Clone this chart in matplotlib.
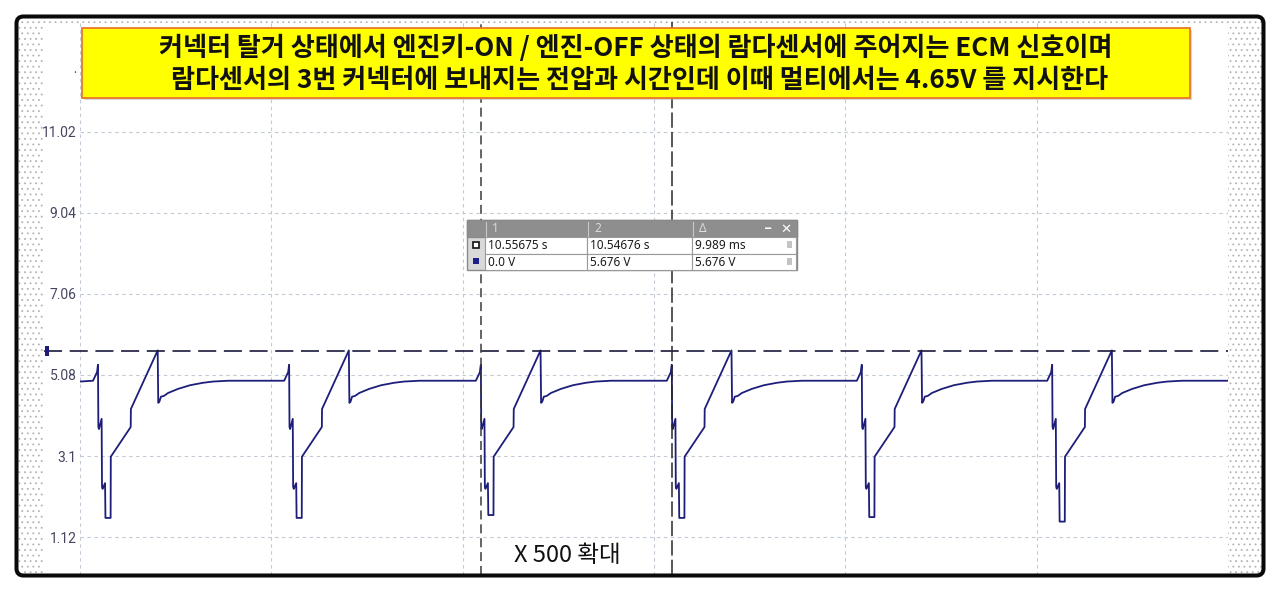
import matplotlib
matplotlib.use("Agg")
import matplotlib.pyplot as plt
from matplotlib.patches import Rectangle, FancyBboxPatch

plt.rcParams['font.family'] = ['Noto Sans CJK KR', 'DejaVu Sans']
plt.rcParams['lines.scale_dashes'] = False
plt.rcParams['hatch.linewidth'] = 0.6

W, H = 1280, 591

# ---------------- data ----------------
y_tick_values = [1.12, 3.1, 5.08, 7.06, 9.04, 11.02]
y_tick_labels = ["1.12", "3.1", "5.08", "7.06", "9.04", "11.02"]
x_grid_ms = [0, 10, 20, 30, 40, 50, 60]
y_limits = [0.196, 13.70]
x_limits = [0.0, 60.0]

# one ignition cycle of the lambda-sensor signal
cycle_dt_ms = [-0.26, -0.05, 0.00, 0.02, 0.05, 0.19, 0.21, 0.24, 0.37, 0.39,
               0.66, 0.67, 1.71, 1.72, 3.12, 3.15, 3.21, 3.29, 3.45, 3.66,
               4.18, 4.81, 5.49, 6.01, 6.80, 9.67]
cycle_v = [4.94, 5.15, 5.33, 3.81, 3.76, 4.01, 2.35, 2.30, 2.44, None,
           None, 3.085, 3.81, 4.25, 5.68, 4.40, 4.43, 4.55, 4.57, 4.64,
           4.74, 4.83, 4.89, 4.92, 4.94, 4.94]
cycle_start_ms = [0.94, 10.93, 20.95, 30.93, 40.86, 50.81]
cycle_floor_v = [1.59, 1.59, 1.66, 1.59, 1.61, 1.50]
initial_level_v = 4.92

cursor_t1_ms = 20.96
cursor_dt_ms = 9.989
cursor_level_v = 5.676

title_lines = ["커넥터 탈거 상태에서 엔진키-ON / 엔진-OFF 상태의 람다센서에 주어지는 ECM 신호이며",
               "람다센서의 3번 커넥터에 보내지는 전압과 시간인데 이때 멀티에서는 4.65V 를 지시한다"]
zoom_note = "X 500 확대"
table_header = ["1", "2", "Δ"]
table_rows = [["10.55675 s", "10.54676 s", "9.989 ms"],
              ["0.0 V", "5.676 V", "5.676 V"]]

# ---------------- build trace ----------------
t_all = [0.0]
v_all = [initial_level_v]
for start, floor in zip(cycle_start_ms, cycle_floor_v):
    for dt, v in zip(cycle_dt_ms, cycle_v):
        t_all.append(start + dt)
        v_all.append(floor if v is None else v)

# ---------------- figure ----------------
fig = plt.figure(figsize=(W / 100, H / 100), dpi=100)
fig.patch.set_facecolor("white")

bg = fig.add_axes([0, 0, 1, 1], zorder=0)
bg.set_xlim(0, W); bg.set_ylim(H, 0); bg.axis("off")
# dotted backdrop inside frame
bg.add_patch(Rectangle((17, 17), 1246, 559, facecolor="white", edgecolor="#b4b4b4",
                       hatch="...", lw=0))
# white plot panel
bg.add_patch(Rectangle((43, 23), 1185, 553, facecolor="white", edgecolor="none"))

def px2fig(x0, y0, x1, y1):
    return [x0 / W, 1 - y1 / H, (x1 - x0) / W, (y1 - y0) / H]

ax = fig.add_axes(px2fig(80, 22, 1228, 575), zorder=1)
ax.set_facecolor("none")
ax.set_xlim(*x_limits)
ax.set_ylim(*y_limits)
for s in ax.spines.values():
    s.set_visible(False)
ax.set_yticks(y_tick_values)
ax.set_yticklabels(y_tick_labels, fontfamily="Roboto", fontsize=10, color="#454560")
ax.set_xticks(x_grid_ms)
ax.set_xticklabels([])
ax.tick_params(axis="both", length=0, pad=2.5)
ax.grid(True, color="#c3cad6", lw=0.8, linestyle=(0, (2.5, 2.5)))

ax.plot(t_all, v_all, color="#1e1e7a", lw=1.3, zorder=3, clip_on=True)

# cursors
ax.axhline(cursor_level_v, xmin=-0.031, xmax=1.0, color="#1a1a3c", lw=1.2,
           linestyle=(0, (13, 5.5)), zorder=4, clip_on=False)
ax.axvline(cursor_t1_ms, color="#3a3a3a", lw=1.1, linestyle=(0, (6.5, 3.5)), zorder=4)
ax.axvline(cursor_t1_ms + cursor_dt_ms, color="#2a2a2a", lw=1.1,
           linestyle=(0, (11, 3.0)), zorder=4)

fg = fig.add_axes([0, 0, 1, 1], zorder=3)
fg.set_xlim(0, W); fg.set_ylim(H, 0); fg.axis("off")
fg.patch.set_alpha(0)

# cursor marker on the left
fg.add_patch(Rectangle((44.5, 346), 4.5, 10, facecolor="#1e1e7a", edgecolor="none"))
fg.text(75, 70, ".", fontsize=8, color="#454560", ha="center", va="center")

# title box
fg.add_patch(Rectangle((84, 30), 1108, 70, facecolor="#b0b0b0", edgecolor="none", alpha=0.5))
fg.add_patch(Rectangle((82, 28), 1108, 70, facecolor="#FFFF00", edgecolor="#E8782A", lw=1.3))
fg.text(636, 48, title_lines[0], ha="center", va="center", fontsize=18.8,
        fontweight="bold", color="#111111")
fg.text(640, 80, title_lines[1], ha="center", va="center", fontsize=18.8,
        fontweight="bold", color="#111111")

# cursor measurement table
tx0, tx1 = 467, 797
ty0, ty1 = 220, 270
fg.add_patch(Rectangle((tx0, ty0), tx1 - tx0, ty1 - ty0, facecolor="#d9d9d9",
                       edgecolor="#8a8a8a", lw=1.0))
fg.add_patch(Rectangle((tx0, ty0), tx1 - tx0, 17, facecolor="#8e8e8e", edgecolor="#8a8a8a", lw=1.0))
col_x = [485, 587, 692, 797]
row_y = [237, 253.5, 270]
for i in range(2):
    for j in range(3):
        fg.add_patch(Rectangle((col_x[j], row_y[i]), col_x[j + 1] - col_x[j] - (1.5 if j == 2 else 0),
                               row_y[i + 1] - row_y[i], facecolor="white",
                               edgecolor="#9a9a9a", lw=0.8))
for j, lab in enumerate(table_header):
    fg.plot([col_x[j] + 1, col_x[j] + 1], [ty0 + 2, ty0 + 16], color="#c8c8c8", lw=0.8)
    fg.text(col_x[j] + 7, ty0 + 9, lab, fontfamily="Noto Sans", fontsize=8.5,
            color="#dcdcdc", ha="left", va="center")
fg.text(768, ty0 + 9, "_", fontfamily="DejaVu Sans", fontsize=9, color="white",
        ha="center", va="bottom", fontweight="bold")
fg.text(786, ty0 + 9, "✕", fontfamily="DejaVu Sans", fontsize=9.5, color="white",
        ha="center", va="center", fontweight="bold")
for i, row in enumerate(table_rows):
    yc = (row_y[i] + row_y[i + 1]) / 2
    for j, txt in enumerate(row):
        fg.text(col_x[j] + 3, yc + 0.5, txt, fontfamily="Noto Sans", fontsize=8.5,
                color="#1a1a1a", ha="left", va="center")
    fg.add_patch(Rectangle((787, yc - 4), 5, 7, facecolor="#c4c4c4", edgecolor="none"))
# row icons
fg.add_patch(Rectangle((473, 241.5), 6, 6, facecolor="white", edgecolor="#111111", lw=1.2))
fg.add_patch(Rectangle((473, 258), 6, 6, facecolor="#1e1e8a", edgecolor="none"))

# zoom note
fg.text(567, 556, zoom_note, ha="center", va="center", fontsize=17, color="#111111")

# outer rounded frame
fg.add_patch(FancyBboxPatch((16.5, 16.5), 1247, 559,
                            boxstyle="round,pad=0,rounding_size=7",
                            facecolor="none", edgecolor="#0a0a0a", lw=2.9))

fig.savefig("out.png", dpi=100, facecolor="white")
